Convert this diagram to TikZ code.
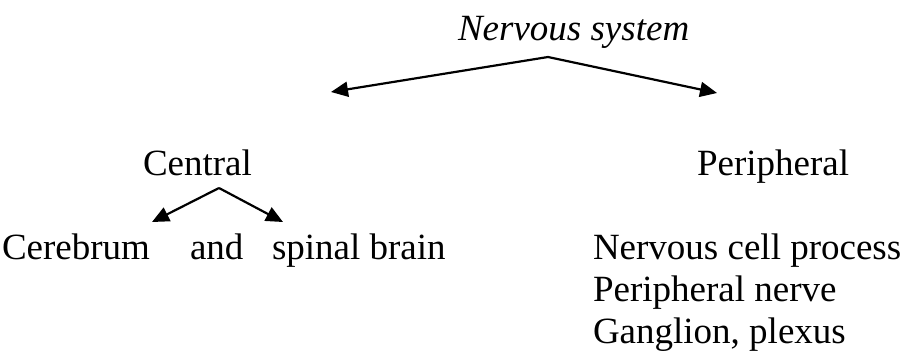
\documentclass[tikz,border=0pt]{standalone}
\usepackage{fontspec}
\setmainfont{Liberation Serif}
\usetikzlibrary{arrows.meta}
\begin{document}
\begin{tikzpicture}[x=1pt,y=-1pt,
  label text/.style={inner sep=0pt,outer sep=0pt,anchor=base west,
    font=\fontsize{37}{42}\selectfont},
  branch/.style={line width=2.2pt,-{Triangle[length=17pt,width=15pt]}}]
  \useasboundingbox (0,0) rectangle (909,354);

  % top level
  \node[label text,font=\fontsize{37}{42}\selectfont\itshape] (ns) at (458,40) {Nervous system};
  \coordinate (nsfork) at (548,57);
  \coordinate (nsleft) at (331,92);
  \coordinate (nsright) at (717,93);
  \draw[branch] (nsfork) -- (nsleft);
  \draw[branch] (nsfork) -- (nsright);

  % central branch
  \node[label text] (central) at (143,175) {Central};
  \coordinate (cfork) at (219,188);
  \coordinate (cleft) at (152,222);
  \coordinate (cright) at (283,222);
  \draw[branch] (cfork) -- (cleft);
  \draw[branch] (cfork) -- (cright);
  \node[label text] (cerebrum) at (2,259) {Cerebrum};
  \node[label text] (and) at (190,259) {and};
  \node[label text] (spinal) at (272,259) {spinal brain};

  % peripheral branch
  \node[label text] (peripheral) at (697,175) {Peripheral};
  \node[label text] (cellproc) at (593,259) {Nervous cell process};
  \node[label text] (pnerve) at (593,301) {Peripheral nerve};
  \node[label text] (ganglion) at (593,343) {Ganglion, plexus};
\end{tikzpicture}
\end{document}
